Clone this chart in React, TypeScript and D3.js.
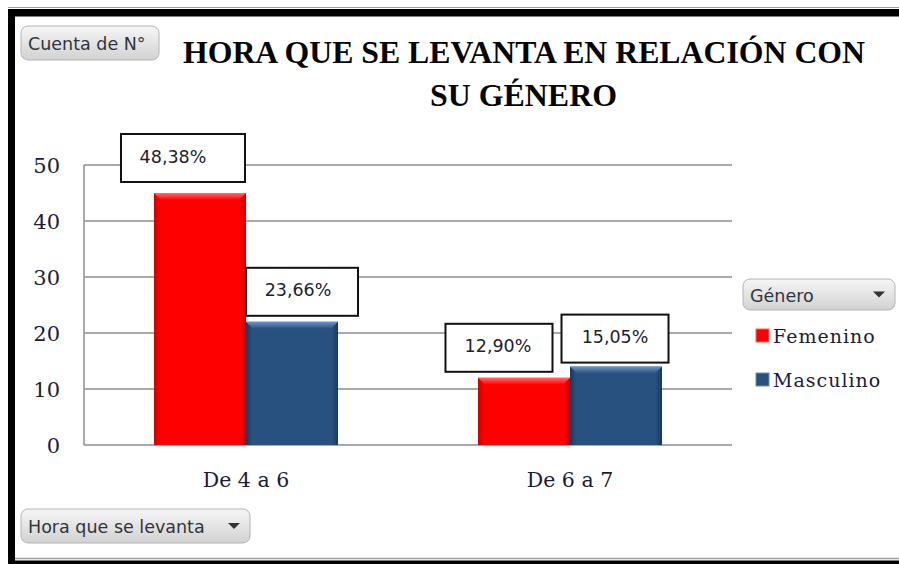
import React from 'react';
import * as d3 from 'd3';

const W = 899,
      H = 564;

// chart data
const categories = ['De 4 a 6', 'De 6 a 7'];
const seriesNames = ['Femenino', 'Masculino'];
const femenino = [45, 12];
const masculino = [22, 14];
const pctFemenino = ['48,38%', '12,90%'];
const pctMasculino = ['23,66%', '15,05%'];
const yTicks = [0, 10, 20, 30, 40, 50];
const titleLines = ['HORA QUE SE LEVANTA EN RELACIÓN CON', 'SU GÉNERO'];

// hand placed data label boxes (dx from bar centre, gap above bar, box width, text dx)
const labelLayout = [
  [{ dx: -17, gap: 11, w: 124, tdx: -10 }, { dx: 10, gap: 6, w: 112, tdx: -4 }],
  [{ dx: -25, gap: 6, w: 107, tdx: -1 }, { dx: -1, gap: 4, w: 107, tdx: 0 }],
];

const plot = { left: 84, right: 732, top: 165, bottom: 445 };

const colors = {
  Femenino: { base: '#fe0000', edge: '#d00000', light: '#ff6a6a' },
  Masculino: { base: '#29517f', edge: '#1a395e', light: '#6d93c4' },
};

const sans = '"DejaVu Sans", Verdana, sans-serif';
const serif = '"DejaVu Serif", serif';

const x0 = d3.scaleBand()
  .domain(categories)
  .range([plot.left, plot.right])
  .paddingInner(0.432)
  .paddingOuter(0.216);

const x1 = d3.scaleBand()
  .domain(seriesNames)
  .range([0, x0.bandwidth()]);

const y = d3.scaleLinear()
  .domain([0, 50])
  .range([plot.bottom, plot.top]);

const values = { Femenino: femenino, Masculino: masculino };
const pcts = { Femenino: pctFemenino, Masculino: pctMasculino };

function Button({ x, y, w, h, label, arrow }) {
  return (
    <g>
      <rect x={x} y={y} width={w} height={h} rx={7} fill="url(#btnGrad)" stroke="#b4b4b4" strokeWidth={1} />
      <text x={x + 7} y={y + h / 2 + 1} dominantBaseline="central" fontFamily={sans} fontSize={17.5} fill="#2f3440">
        {label}
      </text>
      {arrow && (
        <path d={`M${x + w - 22},${y + h / 2 - 3} l12,0 l-6,6 z`} fill="#333" />
      )}
    </g>
  );
}

function Bar({ cx, w, v, name }) {
  const x = cx, top = y(v), hgt = plot.bottom - top;
  const b = 7;
  return (
    <g>
      <rect x={x} y={top} width={w} height={hgt} fill={`url(#side-${name})`} />
      <path d={`M${x},${top} L${x + w},${top} L${x + w - b},${top + b} L${x + b},${top + b} Z`}
            fill={`url(#top-${name})`} />
    </g>
  );
}

export default function App() {
  return (
    <svg width={W} height={H} style={{ position: 'absolute', left: 0, top: 0, background: '#fff' }}>
      <defs>
        <linearGradient id="btnGrad" x1="0" y1="0" x2="0" y2="1">
          <stop offset="0%" stopColor="#f6f6f6" />
          <stop offset="100%" stopColor="#d2d2d2" />
        </linearGradient>
        {seriesNames.map(n => (
          <React.Fragment key={n}>
            <linearGradient id={`side-${n}`} x1="0" y1="0" x2="1" y2="0">
              <stop offset="0%" stopColor={colors[n].edge} />
              <stop offset="7%" stopColor={colors[n].base} />
              <stop offset="93%" stopColor={colors[n].base} />
              <stop offset="100%" stopColor={colors[n].edge} />
            </linearGradient>
            <linearGradient id={`top-${n}`} x1="0" y1="0" x2="0" y2="1">
              <stop offset="0%" stopColor={colors[n].light} />
              <stop offset="100%" stopColor={colors[n].base} />
            </linearGradient>
          </React.Fragment>
        ))}
      </defs>

      {/* frame */}
      <line x1={8} x2={W} y1={7.5} y2={7.5} stroke="#9a9a9a" strokeWidth={1} />
      <rect x={8} y={9} width={W - 8} height={7.5} fill="#000" />
      <rect x={8} y={9} width={7} height={H - 9} fill="#000" />
      <line x1={15} x2={W} y1={558.5} y2={558.5} stroke="#a0a0a0" strokeWidth={1.5} />
      <rect x={8} y={560.5} width={W - 8} height={4} fill="#000" />

      {/* title */}
      <text x={183} y={63} textLength={682} lengthAdjust="spacingAndGlyphs"
            fontFamily='"Liberation Serif", serif' fontWeight="bold" fontSize={31} fill="#050505">
        {titleLines[0]}
      </text>
      <text x={430} y={106} textLength={187} lengthAdjust="spacingAndGlyphs"
            fontFamily='"Liberation Serif", serif' fontWeight="bold" fontSize={31} fill="#050505">
        {titleLines[1]}
      </text>

      {/* grid + axis */}
      {yTicks.map(t => (
        <g key={t}>
          <line x1={plot.left} x2={plot.right} y1={y(t)} y2={y(t)} stroke="#8c8c8c" strokeWidth={1.5} />
          <text x={60} y={y(t) + 1} textAnchor="end" dominantBaseline="central"
                fontFamily={serif} fontSize={21} fill="#1c1c36">{t}</text>
        </g>
      ))}
      <line x1={plot.left} x2={plot.left} y1={plot.top} y2={plot.bottom} stroke="#8c8c8c" strokeWidth={1.5} />

      {/* bars */}
      {categories.map((cat, i) => (
        <g key={cat}>
          {seriesNames.map(n => (
            <Bar key={n} cx={x0(cat) + x1(n)} w={x1.bandwidth()} v={values[n][i]} name={n} />
          ))}
          <text x={x0(cat) + x0.bandwidth() / 2} y={480} textAnchor="middle" dominantBaseline="central"
                fontFamily={serif} fontSize={20.5} fill="#1c1c36">{cat}</text>
        </g>
      ))}

      {/* data labels */}
      {categories.map((cat, i) => seriesNames.map((n, j) => {
        const L = labelLayout[i][j];
        const cx = x0(cat) + x1(n) + x1.bandwidth() / 2 + L.dx;
        const bottom = y(values[n][i]) - L.gap;
        const bh = 48;
        return (
          <g key={cat + n}>
            <rect x={cx - L.w / 2} y={bottom - bh} width={L.w} height={bh} fill="#fff" stroke="#111" strokeWidth={2} />
            <text x={cx + L.tdx} y={bottom - bh / 2 - 1.5} textAnchor="middle" dominantBaseline="central"
                  fontFamily={sans} fontSize={17.5} fill="#1e2230">{pcts[n][i]}</text>
          </g>
        );
      }))}

      {/* legend */}
      <Button x={743} y={279} w={152} h={31} label="Género" arrow />
      {seriesNames.map((n, j) => (
        <g key={n}>
          <rect x={756} y={329 + j * 44} width={13} height={13} fill={`url(#side-${n})`} stroke={colors[n].light} strokeWidth={1} />
          <text x={773} y={335.5 + j * 44} dominantBaseline="central" fontFamily={serif}
                fontSize={19} letterSpacing={1} fill="#1c1c36">{n}</text>
        </g>
      ))}

      {/* field buttons */}
      <Button x={21} y={26} w={138} h={34} label="Cuenta de N°" arrow={false} />
      <Button x={21} y={509} w={229} h={34} label="Hora que se levanta" arrow />
    </svg>
  );
}
